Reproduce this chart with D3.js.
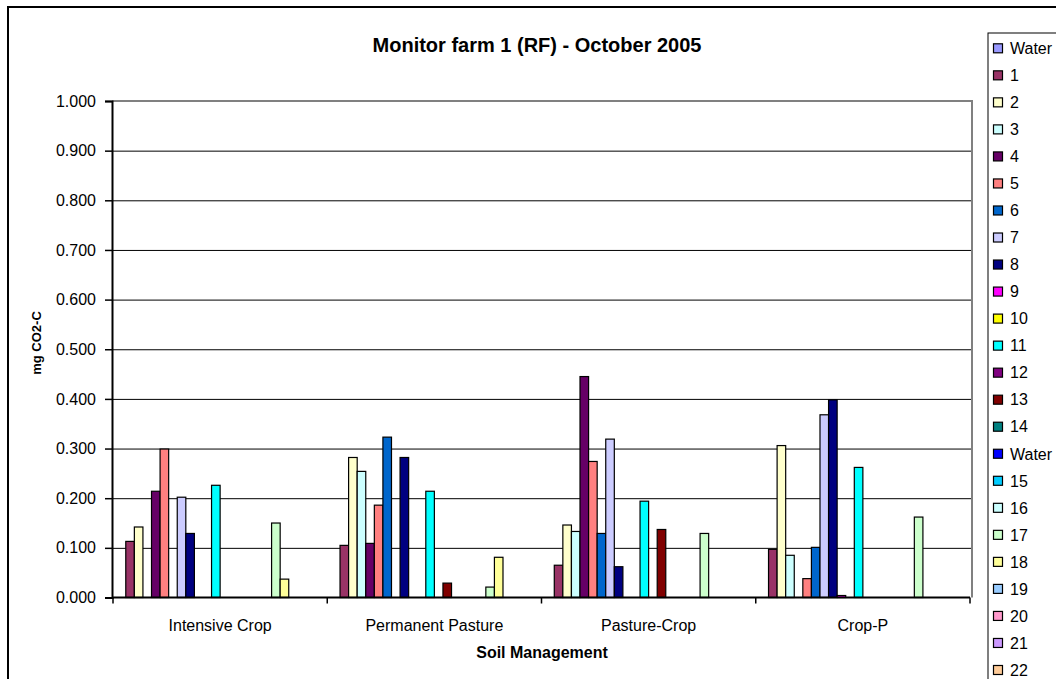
<!DOCTYPE html>
<html>
<head>
<meta charset="utf-8">
<script src="https://cdn.jsdelivr.net/npm/d3@7"></script>
<style>
  html, body { margin: 0; padding: 0; background: #fff; }
  svg { display: block; font-family: "Liberation Sans", Arial, sans-serif; }
</style>
</head>
<body>
<svg id="chart" width="1056" height="679"></svg>
<script>
// ---- data ----
const categories = ["Intensive Crop", "Permanent Pasture", "Pasture-Crop", "Crop-P"];
const seriesNames = ["Water", "1", "2", "3", "4", "5", "6", "7", "8", "9", "10", "11", "12", "13", "14",
                     "Water", "15", "16", "17", "18", "19", "20", "21", "22"];
const seriesColors = ["#9999FF", "#993366", "#FFFFCC", "#CCFFFF", "#660066", "#FF8080", "#0066CC", "#CCCCFF",
                      "#000080", "#FF00FF", "#FFFF00", "#00FFFF", "#800080", "#800000", "#008080",
                      "#0000FF", "#00CCFF", "#CCFFFF", "#CCFFCC", "#FFFF99", "#99CCFF", "#FF99CC", "#CC99FF", "#FFCC99"];
// values per category, in series order above (null = no bar)
const intensiveCrop    = [null, 0.113, 0.142, null, 0.214, 0.299, null, 0.202, 0.129, null, null, 0.226, null, null, null,
                          null, null, null, 0.150, 0.037, null, null, null, null];
const permanentPasture = [null, 0.105, 0.282, 0.254, 0.109, 0.186, 0.323, null, 0.282, null, null, 0.214, null, 0.029, null,
                          null, null, null, 0.021, 0.081, null, null, null, null];
const pastureCrop      = [null, 0.065, 0.146, 0.133, 0.445, 0.274, 0.129, 0.319, 0.062, null, null, 0.194, null, 0.137, null,
                          null, null, null, 0.129, null, null, null, null, null];
const cropP            = [null, 0.097, 0.306, 0.085, null, 0.038, 0.101, 0.368, 0.398, 0.004, null, 0.262, null, null, null,
                          null, null, null, 0.162, null, null, null, null, null];
const yTicks = [0, 0.1, 0.2, 0.3, 0.4, 0.5, 0.6, 0.7, 0.8, 0.9, 1.0];

const chartTitle = "Monitor farm 1 (RF) - October 2005";
const xTitle = "Soil Management";
const yTitle = "mg CO2-C";

// ---- layout ----
const svg = d3.select("#chart");
const plot = { left: 112, right: 972, top: 101, bottom: 597.5 };
const axisEnd = 970;

const x0 = d3.scaleBand().domain(categories).range([plot.left + 1, axisEnd]).paddingInner(0).paddingOuter(0);
const x1 = d3.scaleBand().domain(d3.range(seriesNames.length)).range([0, x0.bandwidth()])
  .paddingInner(0).paddingOuter(0.49);
const y = d3.scaleLinear().domain([0, 1]).range([plot.bottom, plot.top]);

const table = categories.map((c, i) => ({ cat: c, vals: [intensiveCrop, permanentPasture, pastureCrop, cropP][i] }));

// outer chart border
svg.append("rect").attr("x", 8).attr("y", 7).attr("width", 1100).attr("height", 700)
  .attr("fill", "#fff").attr("stroke", "#000").attr("stroke-width", 2);

// gridlines
const grid = svg.append("g").attr("transform", `translate(${plot.left},0)`)
  .call(d3.axisLeft(y).tickValues(yTicks.filter(v => v > 0 && v < 1)).tickSize(-(plot.right - plot.left)).tickFormat(""));
grid.select(".domain").remove();
grid.selectAll(".tick line").attr("stroke", "#000").attr("stroke-width", 1);

// plot area border (top & right, gray)
svg.append("path")
  .attr("d", `M${plot.left},${y(1)}H${plot.right}V${plot.bottom}`)
  .attr("fill", "none").attr("stroke", "#808080").attr("stroke-width", 2);

// bars
const groups = svg.append("g").selectAll("g").data(table).join("g")
  .attr("transform", d => `translate(${x0(d.cat)},0)`);
groups.selectAll("rect")
  .data(d => d.vals.map((v, i) => ({ v, i })).filter(e => e.v !== null))
  .join("rect")
  .attr("x", d => x1(d.i))
  .attr("width", x1.step())
  .attr("y", d => y(d.v))
  .attr("height", d => y(0) - y(d.v))
  .attr("fill", d => seriesColors[d.i])
  .attr("stroke", "#000").attr("stroke-width", 1.2);

// y axis
const yAxis = svg.append("g").attr("transform", `translate(${plot.left},0)`)
  .call(d3.axisLeft(y).tickValues(yTicks).tickFormat(d3.format(".3f")).tickSize(7).tickPadding(9));
yAxis.select(".domain").attr("stroke", "#000").attr("stroke-width", 2);
yAxis.selectAll(".tick line").attr("stroke", "#000").attr("stroke-width", 1.5);
yAxis.selectAll(".tick text").attr("font-size", 16).attr("fill", "#000")
  .attr("font-family", "'Liberation Sans', Arial, sans-serif");

// x axis
svg.append("line").attr("x1", plot.left).attr("x2", axisEnd).attr("y1", y(0)).attr("y2", y(0))
  .attr("stroke", "#000").attr("stroke-width", 2);
const xTickPos = categories.map(c => x0(c)).concat([x0(categories[categories.length - 1]) + x0.bandwidth()]);
svg.append("g").selectAll("line").data(xTickPos).join("line")
  .attr("x1", d => d).attr("x2", d => d).attr("y1", y(0)).attr("y2", y(0) + 6)
  .attr("stroke", "#000").attr("stroke-width", 1.5);
svg.append("g").selectAll("text").data(categories).join("text")
  .attr("x", d => x0(d) + x0.bandwidth() / 2).attr("y", 631)
  .attr("text-anchor", "middle").attr("font-size", 16).text(d => d);

// titles
svg.append("text").attr("x", 537).attr("y", 52).attr("text-anchor", "middle")
  .attr("font-size", 20).attr("font-weight", "bold").text(chartTitle);
svg.append("text").attr("x", 542).attr("y", 658).attr("text-anchor", "middle")
  .attr("font-size", 16).attr("font-weight", "bold").text(xTitle);
svg.append("text").attr("transform", "translate(41,343) rotate(-90)").attr("text-anchor", "middle")
  .attr("font-size", 13).attr("font-weight", "bold").text(yTitle);

// legend
svg.append("rect").attr("x", 988).attr("y", 33).attr("width", 80).attr("height", 700)
  .attr("fill", "#fff").attr("stroke", "#000").attr("stroke-width", 1);
const leg = svg.append("g").selectAll("g").data(seriesNames).join("g")
  .attr("transform", (d, i) => `translate(0,${48.3 + i * 27.03})`);
leg.append("rect").attr("x", 993.5).attr("y", -4.5).attr("width", 9).attr("height", 9)
  .attr("fill", (d, i) => seriesColors[i]).attr("stroke", "#000").attr("stroke-width", 1.2);
leg.append("text").attr("x", 1010).attr("y", 0).attr("dy", "0.36em").attr("font-size", 16).text(d => d);
</script>
</body>
</html>
